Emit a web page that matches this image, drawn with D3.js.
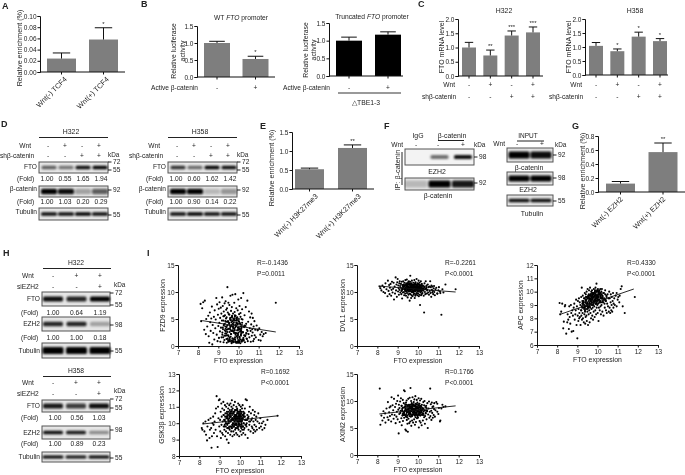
<!DOCTYPE html>
<html><head><meta charset="utf-8">
<script src="https://cdn.jsdelivr.net/npm/d3@7/dist/d3.min.js"></script>
<style>
html,body{margin:0;padding:0;background:#fff}
svg{display:block;filter:blur(0.3px)}
text{font-family:"Liberation Sans",Arial,sans-serif;fill:#222}
</style></head><body><svg id="c" width="685" height="475"></svg>
<script>
// ---------- data: bars ----------
const aCats=["Wnt(-) TCF4","Wnt(+) TCF4"], aVals=[0.024,0.058], aErrs=[0.034,0.079];
const bWtVals=[1.0,0.53], bWtErrs=[1.05,0.61];
const bTrVals=[1.0,1.17], bTrErrs=[1.1,1.25];
const c322Vals=[1.0,0.72,1.42,1.53], c322Errs=[1.18,0.91,1.58,1.72], c322Stars=["","**","***","***"];
const c358Vals=[1.04,0.85,1.37,1.21], c358Errs=[1.16,0.93,1.53,1.3], c358Stars=["","*","*","*"];
const eCats=["Wnt(-) H3K27me3","Wnt(+) H3K27me3"], eVals=[0.52,1.08], eErrs=[0.55,1.16];
const gCats=["Wnt(-) EZH2","Wnt(+) EZH2"], gVals=[0.12,0.57], gErrs=[0.15,0.70];
const activeSigns=["-","+"], wntSigns=["-","+","-","+"], shSigns=["-","-","+","+"];
const wnt3=["-","+","+"], si3=["-","-","+"];
// ---------- data: fold numbers and band strengths ----------
const d322Fold1=["1.00","0.55","1.65","1.94"], d322Fold2=["1.00","1.03","0.20","0.29"];
const d358Fold1=["1.00","0.60","1.62","1.42"], d358Fold2=["1.00","0.90","0.14","0.22"];
const h322Fold1=["1.00","0.64","1.19"], h322Fold2=["1.00","1.00","0.18"];
const h358Fold1=["1.00","0.56","1.03"], h358Fold2=["1.00","0.89","0.23"];
const d322Fto=[.6,.5,.95,1], d322Cat=[1,.95,.3,.6], d322Tub=[.95,.95,1,.95];
const d358Fto=[.8,.55,1,.95], d358Cat=[1,1,.2,.35], d358Tub=[.95,1,.95,.95];
const fIp1=[0,.55,.95], fIp2=[.2,1,.9], fIn=[1,.95], fInEzh=[1,1], fInTub=[.95,.95];
const h322Fto=[.95,.85,1], h322Ezh=[.85,.85,.3], h322Tub=[1,1,1];
const h358Fto=[.9,.75,.95], h358Ezh=[.95,.9,.4], h358Tub=[1,.95,1];
// ---------- data: scatter (FTO expression is shared by all five plots) ----------
const ftoX=[8.12,8.15,8.2,8.25,8.3,8.33,8.38,8.4,8.45,8.5,8.52,8.55,8.58,8.6,8.62,8.65,8.68,8.7,8.72,8.75,
8.78,8.8,8.82,8.85,8.87,8.9,8.92,8.94,8.96,8.98,9.0,9.02,9.03,9.05,9.06,9.08,9.09,9.1,9.12,9.13,
9.15,9.16,9.18,9.19,9.2,9.22,9.23,9.25,9.26,9.27,9.28,9.3,9.31,9.32,9.33,9.35,9.36,9.37,9.38,9.39,
9.4,9.41,9.42,9.43,9.44,9.45,9.46,9.47,9.48,9.49,9.5,9.51,9.52,9.53,9.54,9.55,9.56,9.57,9.58,9.59,
9.6,9.61,9.62,9.63,9.64,9.65,9.66,9.67,9.68,9.69,9.7,9.71,9.72,9.73,9.74,9.75,9.76,9.77,9.78,9.79,
9.8,9.81,9.82,9.83,9.84,9.85,9.86,9.87,9.88,9.89,9.9,9.91,9.92,9.93,9.94,9.95,9.96,9.97,9.98,9.99,
10.0,10.01,10.02,10.03,10.04,10.05,10.06,10.07,10.08,10.09,10.1,10.11,10.12,10.13,10.14,10.15,10.16,10.17,10.18,10.19,
10.2,10.22,10.24,10.26,10.28,10.3,10.32,10.34,10.36,10.38,10.4,10.42,10.44,10.46,10.48,10.5,10.52,10.54,10.56,10.58,
10.6,10.61,10.63,10.65,10.66,10.68,10.7,10.71,10.73,10.75,10.77,10.79,10.8,10.83,10.86,10.9,10.95,11.0,11.03,11.08,
11.1,11.15,11.2,11.25,11.35,10.95,11.85];
const ftoCoreX=[9.22,9.3,9.38,9.45,9.52,9.58,9.63,9.68,9.72,9.77,9.81,9.86,9.9,9.94,9.98,10.03,10.08,10.14,10.22,10.33,
9.25,9.34,9.41,9.48,9.55,9.6,9.65,9.7,9.74,9.79,9.83,9.88,9.92,9.96,10.0,10.05,10.1,10.17,10.26,10.38,
9.2,9.32,9.4,9.47,9.53,9.59,9.64,9.69,9.73,9.78,9.82,9.87,9.91,9.95,9.99,10.04,10.09,10.15,10.24,10.35,
9.28,9.36,9.43,9.5,9.56,9.61,9.66,9.71,9.75,9.8,9.84,9.89,9.93,9.97,10.01,10.06,10.11,10.18,10.28,10.42,
9.24,9.35,9.42,9.49,9.54,9.62,9.67,9.7,9.76,9.8,9.85,9.88,9.92,9.96,10.02,10.07,10.12,10.2,10.3,10.45,
9.27,9.37,9.44,9.51,9.57,9.6,9.66,9.72,9.77,9.82,9.86,9.9,9.95,9.98,10.03,10.06,10.13,10.16,10.25,10.4];
const fzd9Y=[7.8,4.6,7.0,8.1,3.0,8.4,2.2,5.0,3.6,5.6,1.8,0.6,6.2,4.4,2.8,5.1,7.3,0.3,3.9,2.4,
5.4,1.2,6.6,3.3,4.9,8.9,2.1,7.7,0.9,5.8,3.7,6.9,1.5,4.3,8.1,2.7,5.2,0.8,7.1,3.4,
6.0,1.6,4.7,9.0,2.5,7.4,3.1,5.5,0.7,6.4,4.0,1.1,7.9,2.9,5.7,3.6,8.3,1.9,4.5,6.7,
2.3,5.3,0.6,7.0,3.8,10.9,1.4,6.2,4.6,2.0,8.0,3.2,5.9,0.9,4.2,7.6,2.6,1.2,5.0,3.5,
9.3,1.7,4.8,6.5,2.2,3.9,0.5,7.2,5.4,2.8,9.5,4.1,1.0,6.0,3.3,5.1,0.7,4.4,2.4,8.0,
3.0,6.3,1.3,4.7,9.6,2.1,5.6,0.8,3.7,7.0,4.3,1.8,5.2,2.9,0.6,4.0,6.6,3.4,1.1,8.6,
2.5,4.6,0.9,5.9,3.2,7.4,1.5,4.2,2.7,0.5,6.1,3.6,1.9,8.9,2.3,5.0,0.8,3.9,6.8,1.2,
4.9,2.6,9.8,1.0,3.5,5.7,0.7,2.0,7.2,4.1,1.4,3.0,8.4,0.9,4.5,2.2,6.4,1.6,3.3,5.3,
2.8,0.8,4.0,6.0,1.9,3.1,2.5,5.2,0.9,3.6,1.3,4.6,2.0,3.0,1.6,3.8,2.9,1.1,3.3,2.1,
1.0,2.6,1.8,2.2,2.4,3.0,8.0];
const fzd9Core=[3.4,1.9,5.1,2.6,4.3,0.9,3.7,5.6,1.4,4.8,2.9,3.9,0.7,5.3,2.2,4.5,1.2,3.2,2.5,1.8,
4.7,2.3,3.5,1.1,5.8,3.0,4.4,0.8,2.7,5.0,1.6,3.8,4.9,2.0,0.6,3.3,5.4,1.0,3.6,2.4,
2.1,4.1,1.3,3.1,0.9,5.2,2.8,4.6,3.5,1.2,5.7,2.4,4.2,0.8,3.4,1.7,4.0,2.6,1.5,3.7,
5.5,3.2,2.0,4.4,1.5,3.6,0.7,2.9,4.9,3.3,1.1,5.1,2.3,4.1,3.0,0.9,2.7,4.3,2.0,1.3,
1.6,4.6,3.0,0.8,3.9,2.2,5.3,1.4,4.0,2.5,3.5,0.6,4.7,1.9,5.0,3.1,2.1,1.0,3.8,2.8,
3.8,2.7,4.5,1.8,3.2,4.8,1.0,3.6,0.8,5.4,2.4,4.3,1.5,3.0,0.7,4.2,2.9,3.5,1.2,2.3];
const dvl1Y=[11.0,10.7,10.3,11.2,10.0,10.9,9.8,11.6,10.5,9.2,12.1,10.2,11.3,9.6,10.8,11.5,9.3,10.4,11.9,9.9,
10.6,11.7,8.6,11.0,9.7,12.7,10.3,11.4,9.1,11.8,12.4,10.1,11.2,10.7,9.5,11.6,10.4,12.0,11.1,9.9,
10.8,11.5,9.6,10.2,11.9,8.8,11.3,10.5,9.9,12.0,10.9,11.4,10.0,9.4,11.7,10.6,11.1,9.7,12.2,10.3,
10.7,9.3,11.6,10.1,11.2,12.3,9.8,10.9,11.5,9.0,10.4,11.8,10.6,9.5,11.0,12.0,10.2,9.7,11.3,8.4,
10.5,11.9,13.0,9.6,11.1,10.3,8.9,11.6,10.0,9.4,12.1,10.8,11.4,9.2,10.6,11.2,9.9,11.7,10.2,9.5,
11.0,9.7,12.2,10.4,8.9,11.5,10.1,9.3,11.8,10.7,9.6,11.3,10.9,12.4,9.8,10.5,11.1,9.4,11.6,10.2,
9.7,11.4,10.6,12.1,9.2,11.0,10.3,9.5,11.7,10.8,7.6,11.2,9.9,10.5,12.0,9.4,11.3,10.1,9.6,11.5,
10.7,9.8,11.1,10.3,9.3,6.2,11.6,10.0,9.6,12.0,10.6,11.2,9.7,10.4,11.4,9.9,10.9,9.5,11.0,10.2,
12.0,9.8,10.9,9.1,11.2,10.4,9.9,11.0,10.2,9.6,10.7,11.1,10.0,9.4,10.5,10.8,9.7,10.3,10.9,10.1,
9.8,5.8,10.5,9.9,11.4,9.7,10.5];
const dvl1Core=[10.6,11.3,10.2,11.0,10.7,11.5,10.4,10.9,11.2,10.1,10.8,11.4,10.3,11.1,10.5,10.9,11.3,10.2,10.7,11.0,
11.1,10.5,11.4,10.3,10.9,11.6,10.6,11.2,10.0,10.8,11.3,10.4,11.0,10.6,11.5,10.2,10.9,11.1,10.4,10.6,
10.3,11.0,10.8,11.3,10.1,10.7,11.4,10.5,11.1,10.9,10.2,11.6,10.6,11.2,10.4,11.0,10.7,10.3,11.2,10.5,
10.8,10.4,11.2,10.7,11.5,10.2,11.0,10.6,10.3,11.3,10.9,10.5,11.4,10.1,10.8,11.1,10.4,11.2,10.6,10.9,
10.5,11.2,10.6,11.1,10.3,10.9,11.5,10.1,10.7,11.4,10.4,11.0,10.8,11.3,10.2,10.6,11.1,10.5,10.9,10.3,
11.0,10.6,10.3,11.4,10.8,10.2,11.1,10.7,11.3,10.5,11.0,10.4,11.2,10.9,10.1,11.4,10.6,10.8,10.3,10.7];
const apcY=[9.15,8.3,8.5,9.1,7.25,7.75,8.9,9.0,6.85,7.7,8.3,7.9,7.2,8.9,8.1,7.6,9.0,8.4,7.0,8.6,
8.2,7.05,8.8,9.1,7.9,8.3,8.6,9.4,7.5,8.9,6.5,8.2,9.3,7.8,8.7,9.5,8.0,8.4,9.2,8.1,
9.0,7.5,8.6,9.6,8.2,10.3,7.9,9.1,8.4,9.7,8.0,8.8,9.3,7.7,9.5,8.3,8.9,9.9,8.5,7.6,
9.2,8.1,9.8,8.7,9.4,8.2,10.0,7.8,9.0,9.6,8.5,10.2,9.1,7.5,8.8,9.7,8.3,9.3,10.1,8.6,
9.5,7.7,8.9,10.3,9.1,8.4,9.8,9.3,8.0,10.0,8.7,9.6,9.2,10.1,8.2,9.4,8.8,9.9,7.9,9.0,
9.6,8.5,10.2,9.2,8.9,9.7,8.1,10.0,9.4,8.6,10.3,9.1,9.8,8.3,9.5,10.6,8.8,9.3,10.1,9.0,
9.7,8.4,10.2,9.1,9.6,7.8,10.0,8.8,9.4,10.1,9.2,8.6,9.9,9.3,10.2,8.9,9.7,8.3,9.5,10.0,
9.0,10.2,8.5,9.6,9.2,8.2,9.9,9.4,8.8,10.1,9.3,8.6,9.7,8.4,9.1,9.8,8.9,9.5,8.5,10.0,
8.8,9.5,8.4,9.2,9.8,8.6,9.0,9.6,8.5,9.3,9.9,8.8,9.1,9.5,9.0,9.7,8.9,9.4,9.6,9.2,
9.7,10.2,10.4,8.9,8.4,9.9,9.6];
const apcCore=[8.9,9.1,8.6,9.4,9.0,9.5,8.8,9.7,9.2,9.6,9.9,9.3,9.8,9.1,9.6,10.0,9.4,9.7,9.2,9.5,
9.3,8.7,9.4,8.9,9.7,9.2,9.5,9.0,9.8,9.3,9.6,10.1,9.1,9.7,9.4,9.9,9.2,9.6,9.3,9.8,
8.6,9.2,8.9,9.6,8.8,9.4,9.7,9.1,9.5,9.9,9.2,9.7,9.4,10.0,9.3,9.6,9.8,9.2,9.5,9.1,
9.0,9.5,9.3,8.7,9.6,9.0,9.8,9.4,9.7,9.1,9.9,9.5,9.3,9.6,10.1,9.4,9.8,9.5,9.9,9.3,
8.8,9.0,9.6,9.2,8.9,9.7,9.3,9.6,9.0,9.8,9.4,9.9,9.6,9.2,9.7,10.0,9.3,9.8,9.4,9.6,
9.2,8.8,9.1,9.5,9.8,9.1,9.4,9.9,9.5,9.2,9.7,9.3,10.0,9.5,9.8,9.4,9.6,9.9,9.7,9.4];
const gskY=[9.7,9.6,10.0,9.5,10.1,9.3,8.95,9.8,10.2,9.1,9.6,10.3,9.7,8.5,9.2,10.0,10.4,9.9,9.4,10.1,
10.6,9.6,10.9,11.65,9.2,8.55,11.0,10.3,11.4,9.8,11.45,10.2,9.5,10.7,9.1,11.2,9.9,10.4,9.4,10.9,
10.1,9.3,11.3,10.5,9.8,10.8,9.6,10.2,11.1,9.2,10.6,10.0,9.5,11.0,10.3,9.0,10.7,9.7,11.2,10.4,
10.0,9.4,10.9,10.2,8.8,10.5,9.7,11.1,10.3,9.6,10.8,10.1,9.3,11.2,10.4,9.8,10.6,9.5,11.0,10.2,
11.4,9.7,10.3,9.2,10.9,10.0,10.6,9.5,10.2,11.1,9.8,10.4,9.3,10.7,10.1,11.3,9.6,10.5,9.9,10.8,
10.2,9.4,11.0,10.5,9.7,10.3,10.9,9.3,10.6,10.1,9.8,11.2,10.4,9.6,10.7,10.0,9.2,11.1,10.3,10.5,
9.9,10.8,9.5,10.2,11.0,10.4,9.7,10.6,9.3,10.1,10.9,9.6,10.3,11.1,9.8,10.5,9.4,10.7,10.0,9.6,
10.4,9.7,10.9,9.3,11.45,10.2,9.8,11.4,10.5,9.1,10.3,9.6,10.7,9.9,11.0,10.1,9.5,10.6,10.2,9.8,
10.3,9.7,10.8,9.4,10.1,9.6,10.5,9.9,10.7,9.5,10.2,9.8,10.4,9.6,10.1,10.6,9.7,10.3,9.8,10.0,
9.6,10.1,9.7,9.9,10.2,10.0,10.45];
const gskCore=[10.2,9.8,10.5,10.0,10.7,9.7,10.3,10.6,9.9,10.4,10.8,10.1,9.7,10.5,10.2,10.7,9.9,10.3,10.6,10.0,
9.9,10.4,9.7,10.6,10.1,10.8,10.2,9.8,10.5,10.3,9.9,10.7,10.0,10.4,10.6,9.8,10.2,10.5,9.9,10.3,
10.5,10.0,10.3,9.8,10.6,10.2,9.9,10.7,10.1,9.7,10.4,10.8,10.3,9.9,10.5,10.1,10.7,9.8,10.4,10.2,
10.1,10.6,10.2,10.4,9.8,10.5,10.0,10.3,10.8,10.2,9.9,10.4,10.6,10.1,9.8,10.3,10.5,10.0,10.2,10.4,
9.8,10.3,10.7,10.1,10.4,9.9,10.6,10.2,10.0,10.5,10.3,9.8,10.1,10.7,10.4,10.0,10.2,10.6,9.9,10.1,
10.4,9.9,10.1,10.5,10.2,10.7,9.8,10.4,10.3,10.0,10.6,10.2,9.9,10.3,10.5,10.1,9.8,10.4,10.2,10.3];
const axin2Y=[12.3,5.6,7.3,6.4,8.1,6.9,7.7,6.0,8.6,7.0,9.8,6.5,7.9,8.8,7.2,9.0,6.2,10.7,7.5,9.2,
8.3,6.7,10.4,7.4,8.9,5.9,9.5,7.1,8.0,10.0,6.6,11.0,8.4,4.0,9.3,7.6,8.7,6.1,9.9,7.8,
8.2,10.5,6.8,9.1,5.5,8.5,7.3,10.2,6.3,8.8,7.7,9.6,12.0,6.9,8.1,11.8,7.4,9.4,4.7,8.6,
7.2,9.7,4.5,8.3,10.1,6.5,8.9,7.0,5.8,9.2,4.3,8.0,10.4,6.7,8.5,7.5,9.0,5.9,8.2,10.6,
7.7,9.3,6.2,12.4,8.6,7.1,10.0,5.4,8.4,9.6,7.3,6.4,8.8,10.7,7.9,9.1,6.0,8.3,7.5,9.8,
8.1,6.6,10.3,7.4,9.0,5.6,8.5,10.9,7.0,8.7,6.1,9.4,7.8,8.9,10.2,6.8,8.2,9.7,7.2,8.6,
6.9,9.2,8.0,10.5,5.1,8.4,7.6,9.5,6.3,8.8,10.1,7.3,8.5,6.0,9.0,7.9,10.4,8.2,5.5,9.3,
7.4,8.7,6.4,9.8,8.1,7.0,10.0,5.8,8.9,7.7,9.1,6.6,8.3,9.6,5.0,7.5,8.6,9.9,6.9,8.0,
12.3,7.2,9.4,8.2,6.5,9.7,7.8,8.9,6.9,9.0,7.4,8.5,9.6,7.1,8.3,9.8,8.0,7.6,8.7,6.2,
6.4,8.6,9.3,8.9,9.0,9.5,8.0];
const axin2Core=[8.2,7.4,9.0,7.9,8.6,7.2,8.9,8.1,9.4,7.6,8.4,9.1,7.8,8.7,7.3,9.2,8.0,8.5,7.7,8.3,
7.6,8.8,7.1,8.4,9.3,7.9,8.2,9.0,7.5,8.6,8.1,9.5,7.7,8.3,8.9,7.4,9.1,8.0,8.6,7.8,
9.1,7.8,8.5,7.3,8.0,9.2,7.6,8.7,8.3,9.4,7.9,8.2,9.0,7.4,8.8,8.1,7.5,8.9,8.4,7.2,
7.4,8.3,9.3,8.0,7.7,8.6,9.0,7.2,8.5,7.9,9.2,8.4,7.6,8.8,8.1,9.5,7.8,8.3,7.4,8.7,
8.7,7.5,8.1,9.1,8.4,7.7,8.2,9.3,7.9,8.5,7.3,9.0,8.6,8.0,7.6,8.9,8.3,7.5,9.2,8.1,
8.0,9.0,7.6,8.4,8.8,8.2,7.4,8.6,9.1,7.8,8.3,7.5,9.4,8.1,8.7,7.9,8.5,9.0,7.7,8.2];
const xTicks=[7,8,9,10,11,12,13];
const fzd9Fit=[[8.2,4.7],[11.85,2.6]], dvl1Fit=[[8.05,11.1],[11.85,10.0]], apcFit=[[8.15,8.3],[11.8,10.2]];
const gskFit=[[8.15,9.95],[11.85,10.45]], axin2Fit=[[8.1,7.6],[11.85,9.1]];

// ---------- helpers ----------
const svg=d3.select("#c");
const defs=svg.append("defs");
defs.append("filter").attr("id","soft").attr("x","-20%").attr("y","-60%").attr("width","140%").attr("height","220%")
  .append("feGaussianBlur").attr("stdDeviation",0.9);
function T(s,x,y,o={}){
  const t=svg.append("text").attr("x",x).attr("y",y).attr("dy","0.35em")
    .attr("font-size",o.size||6.6).attr("text-anchor",o.a||"start");
  if(o.bold)t.attr("font-weight","bold");
  if(o.rot!==undefined)t.attr("transform",`rotate(${o.rot} ${x} ${y})`);
  if(o.html)t.html(s);else t.text(s);
  return t;
}
function styleAxis(g){
  g.selectAll("path.domain").attr("stroke","#111").attr("stroke-width",1);
  g.selectAll("line").attr("stroke","#111").attr("stroke-width",1);
  g.selectAll("text").attr("font-size",6.5).attr("font-family",'"Liberation Sans",Arial,sans-serif').attr("fill","#222");
}
function bars(c){
  const y=d3.scaleLinear().domain([0,c.max]).range([c.y0,c.y1]);
  const idx=c.vals.map((_,i)=>i);
  const x=d3.scalePoint().domain(idx).range([c.c0,c.c1]);
  const g=svg.append("g");
  g.selectAll("rect").data(c.vals).join("rect")
    .attr("x",(d,i)=>x(i)-c.bw/2).attr("width",c.bw)
    .attr("y",d=>y(d)).attr("height",d=>c.y0-y(d)).attr("fill",c.fill||"#7e7e7e");
  const e=svg.append("g").attr("stroke","#111").attr("stroke-width",1);
  e.selectAll("line.v").data(c.errs).join("line").attr("class","v")
    .attr("x1",(d,i)=>x(i)).attr("x2",(d,i)=>x(i))
    .attr("y1",(d,i)=>y(c.vals[i])).attr("y2",d=>y(d));
  e.selectAll("line.h").data(c.errs).join("line").attr("class","h")
    .attr("x1",(d,i)=>x(i)-c.bw*0.3).attr("x2",(d,i)=>x(i)+c.bw*0.3)
    .attr("y1",d=>y(d)).attr("y2",d=>y(d));
  const ay=svg.append("g").attr("transform",`translate(${c.ax},0)`)
    .call(d3.axisLeft(y).tickValues(c.ticks).tickFormat(d3.format(c.fmt)).tickSize(2.5).tickPadding(1));
  styleAxis(ay);
  svg.append("line").attr("x1",c.ax).attr("x2",c.xEnd).attr("y1",c.y0).attr("y2",c.y0).attr("stroke","#111").attr("stroke-width",1.2);
  svg.append("g").selectAll("line").data(idx).join("line")
    .attr("x1",i=>x(i)).attr("x2",i=>x(i)).attr("y1",c.y0).attr("y2",c.y0+2.5).attr("stroke","#111");
  (c.stars||[]).forEach((s,i)=>{ if(s) T(s,x(i),y(c.errs[i])-(c.sGap||4),{a:"middle",size:6}); });
  (c.rows||[]).forEach(r=>r.vals.forEach((s,i)=>T(s,x(i),r.y,{a:"middle"})));
  (c.cats||[]).forEach((s,i)=>T(s,x(i)+(c.catDx||3),c.y0+6,{a:"end",rot:-45,size:7.2}));
  return {x,y};
}
function rowText(vals,c0,c1,y,o={}){
  const x=d3.scalePoint().domain(vals.map((_,i)=>i)).range([c0,c1]);
  vals.forEach((s,i)=>T(s,x(i),y,Object.assign({a:"middle"},o)));
}
function blot(b){
  svg.append("rect").attr("x",b.x0).attr("y",b.y0).attr("width",b.x1-b.x0).attr("height",b.y1-b.y0)
    .attr("fill",b.bg||"#e6e6e6").attr("stroke","#555").attr("stroke-width",1);
  const x=d3.scalePoint().domain(b.vals.map((_,i)=>i)).range([b.c0,b.c1]);
  const cy=(b.y0+b.y1)/2+(b.dy||0);
  svg.append("g").attr("filter","url(#soft)").selectAll("rect").data(b.vals).join("rect")
    .attr("x",(d,i)=>x(i)-b.bw/2).attr("width",b.bw)
    .attr("y",cy-b.h/2).attr("height",b.h).attr("rx",1.5)
    .attr("fill","#000").attr("opacity",d=>d);
  (b.marks||[]).forEach(m=>{
    svg.append("line").attr("x1",b.x1).attr("x2",b.x1+3.5).attr("y1",m[1]).attr("y2",m[1]).attr("stroke","#222");
    T(m[0],b.x1+5,m[1]);
  });
}
function scatter(c){
  const x=d3.scaleLinear().domain([7,13]).range([c.x0,c.x1]);
  const y=d3.scaleLinear().domain(c.dom).range([c.y0,c.y1]);
  const pts=d3.zip(ftoX.concat(ftoCoreX),c.vals.concat(c.core));
  svg.append("g").selectAll("circle").data(pts).join("circle")
    .attr("cx",d=>x(d[0])).attr("cy",d=>y(d[1])).attr("r",1.05).attr("fill","#000");
  svg.append("path").attr("d",d3.line().x(d=>x(d[0])).y(d=>y(d[1]))(c.fit)).attr("stroke","#111").attr("stroke-width",0.9).attr("fill","none");
  styleAxis(svg.append("g").attr("transform",`translate(${c.x0},0)`)
    .call(d3.axisLeft(y).tickValues(c.ticks).tickFormat(d3.format("d")).tickSize(2.5).tickPadding(1)));
  styleAxis(svg.append("g").attr("transform",`translate(0,${c.y0})`)
    .call(d3.axisBottom(x).tickValues(xTicks).tickFormat(d3.format("d")).tickSize(2.5).tickPadding(1.5)));
  T(c.ylab,c.ylx,(c.y0+c.y1)/2,{a:"middle",rot:-90,size:6.9});
  T("FTO expression",(c.x0+c.x1)/2,c.y0+14.5,{a:"middle",size:6.9});
  T(c.R,c.rx,c.y1-2,{size:6.6}); T(c.P,c.rx,c.y1+8.5,{size:6.6});
}
// panel letters
[["A",2,6],["B",141,4],["C",418,4],["D",1,124],["E",260,126],["F",384,126],["G",572,126],["H",3,253],["I",147,253]]
  .forEach(p=>T(p[0],p[1],p[2],{bold:true,size:9}));

// ---------- A ----------
bars({ax:40,xEnd:125,y0:72,y1:16,max:0.10,ticks:[0,.02,.04,.06,.08,.10],fmt:".2f",c0:61.5,c1:103.5,bw:29,vals:aVals,errs:aErrs,stars:["","*"],cats:aCats,catDx:4});
T("Relative enrichment (%)",19,48,{a:"middle",rot:-90,size:7.2});
// ---------- B ----------
bars({ax:197,xEnd:275,y0:77,y1:26,max:1.5,ticks:[0,.5,1,1.5],fmt:".1f",c0:217,c1:255.5,bw:26,vals:bWtVals,errs:bWtErrs,stars:["","*"],rows:[{y:88,vals:activeSigns}]});
T("WT <tspan font-style='italic'>FTO</tspan> promoter",241,18,{a:"middle",html:true,size:6.7});
T("Relative  luciferase",174,51,{a:"middle",rot:-90,size:6.8}); T("activity",183,51,{a:"middle",rot:-90,size:6.8});
T("Active β-catenin",151,88,{size:6.6});
bars({ax:329,xEnd:403,y0:76,y1:23,max:1.5,ticks:[0,.5,1,1.5],fmt:".1f",c0:349,c1:388,bw:26,fill:"#000",vals:bTrVals,errs:bTrErrs,rows:[{y:88,vals:activeSigns}]});
T("Truncated <tspan font-style='italic'>FTO</tspan> promoter",372,17,{a:"middle",html:true,size:6.7});
T("Relative luciferase",306,50,{a:"middle",rot:-90,size:6.8}); T("activity",314,50,{a:"middle",rot:-90,size:6.8});
T("Active β-catenin",283,88,{size:6.6});
svg.append("line").attr("x1",338).attr("x2",401).attr("y1",93).attr("y2",93).attr("stroke","#777").attr("stroke-width",1.3);
T("△TBE1-3",352,103,{size:6.8});
// ---------- C ----------
bars({ax:458,xEnd:543,y0:76,y1:19,max:2,ticks:[0,.5,1,1.5,2],fmt:".1f",c0:469,c1:533,bw:14,vals:c322Vals,errs:c322Errs,stars:c322Stars,rows:[{y:84.5,vals:wntSigns},{y:96.5,vals:shSigns}]});
T("H322",504,11,{a:"middle",size:6.9}); T("FTO mRNA level",442,47,{a:"middle",rot:-90,size:7});
T("Wnt",455,84.5,{a:"end"}); T("shβ-catenin",422,96.5);
bars({ax:585,xEnd:668,y0:75,y1:19,max:2,ticks:[0,.5,1,1.5,2],fmt:".1f",c0:596,c1:660,bw:14,vals:c358Vals,errs:c358Errs,stars:c358Stars,rows:[{y:84.5,vals:wntSigns},{y:96.5,vals:shSigns}]});
T("H358",635,11,{a:"middle",size:6.9}); T("FTO mRNA level",569,47,{a:"middle",rot:-90,size:7});
T("Wnt",582,84.5,{a:"end"}); T("shβ-catenin",549,96.5);
// ---------- D ----------
function dPanel(p){
  const o=p.o;
  T(p.name,o+32,132,{a:"middle",size:6.9});
  svg.append("line").attr("x1",o).attr("x2",o+69).attr("y1",137.5).attr("y2",137.5).attr("stroke","#222");
  T("Wnt",o-8,145.5,{a:"end"}); T("shβ-catenin",o-39,155.5); T("kDa",o+69,155,{size:6.4});
  rowText(wntSigns,o+9,o+60,145.5); rowText(shSigns,o+9,o+60,155.5);
  T("FTO",o-2,167,{a:"end"}); T("(Fold)",o-22,179); rowText(p.f1,o+8,o+62,179,{size:6.7});
  T("β-catenin",o-2,188.5,{a:"end"}); T("(Fold)",o-22,201.5); rowText(p.f2,o+8,o+62,201.5,{size:6.7});
  T("Tubulin",o-2,212,{a:"end"});
  blot({x0:o,x1:o+69,y0:162,y1:173,c0:o+10,c1:o+61,bw:15,h:3.4,vals:p.fto,marks:[["72",162],["55",170]]});
  blot({x0:o,x1:o+69,y0:186,y1:197,c0:o+10,c1:o+61,bw:16,h:5.5,vals:p.cat,marks:[["92",190]]});
  blot({x0:o,x1:o+69,y0:208,y1:220,c0:o+10,c1:o+61,bw:16,h:3.6,vals:p.tub,marks:[["55",215]]});
}
dPanel({o:39,name:"H322",f1:d322Fold1,f2:d322Fold2,fto:d322Fto,cat:d322Cat,tub:d322Tub});
dPanel({o:168,name:"H358",f1:d358Fold1,f2:d358Fold2,fto:d358Fto,cat:d358Cat,tub:d358Tub});
// ---------- E ----------
bars({ax:292,xEnd:374,y0:189,y1:132,max:1.5,ticks:[0,.5,1,1.5],fmt:".1f",c0:309.5,c1:352.5,bw:29,vals:eVals,errs:eErrs,stars:["","**"],cats:eCats,catDx:7});
T("Relative enrichment (%)",271,168,{a:"middle",rot:-90,size:7.2});
// ---------- F ----------
T("IgG",418,136,{a:"middle",size:6.9}); T("β-catenin",452,136,{a:"middle",size:6.9});
svg.append("line").attr("x1",438).attr("x2",464).attr("y1",140.5).attr("y2",140.5).attr("stroke","#222");
T("Wnt",403,144.5,{a:"end"}); ["-","-","+"].forEach((s,i)=>T(s,[416,438,463][i],144.5,{a:"middle"}));
T("kDa",474,145,{size:6.4});
blot({x0:405,x1:474,y0:149,y1:165,c0:416,c1:463,bw:18,h:4,bg:"#f3f3f3",vals:fIp1,marks:[["98",157]]});
T("EZH2",437,172,{a:"middle",size:6.9});
blot({x0:405,x1:474,y0:178,y1:190,c0:416,c1:463,bw:22,h:7,vals:fIp2,marks:[["92",183]]});
T("β-catenin",438,196,{a:"middle",size:6.9});
T("IP: β-catenin",397,170,{a:"middle",rot:-90,size:7.2});
svg.append("line").attr("x1",402).attr("x2",402).attr("y1",152).attr("y2",185).attr("stroke","#222");
T("INPUT",528,136,{a:"middle",size:6.5});
svg.append("line").attr("x1",517).attr("x2",544).attr("y1",141).attr("y2",141).attr("stroke","#222");
T("Wnt",505,144,{a:"end"}); T("-",517,144,{a:"middle"}); T("+",542,144,{a:"middle"}); T("kDa",555,145,{size:6.4});
blot({x0:507,x1:553,y0:148,y1:162,c0:519,c1:541,bw:21,h:7,vals:fIn,marks:[["92",155]]});
T("β-catenin",529,168,{a:"middle",size:6.9});
blot({x0:507,x1:553,y0:172,y1:185,c0:519,c1:541,bw:21,h:6,vals:fInEzh,marks:[["98",178]]});
T("EZH2",528,190,{a:"middle",size:6.9});
blot({x0:507,x1:553,y0:195,y1:206,c0:519,c1:541,bw:21,h:3.5,vals:fInTub,marks:[["55",201]]});
T("Tubulin",532,214,{a:"middle",size:6.9});
// ---------- G ----------
bars({ax:598,xEnd:685,y0:192,y1:136,max:0.8,ticks:[0,.2,.4,.6,.8],fmt:".1f",c0:620.5,c1:663,bw:29,vals:gVals,errs:gErrs,stars:["","**"],cats:gCats,catDx:1});
T("Relative enrichment (%)",582,171,{a:"middle",rot:-90,size:7.2});
// ---------- H ----------
function hPanel(p){
  const o=42;
  T(p.name,76,p.top,{a:"middle",size:6.7});
  svg.append("line").attr("x1",o+1).attr("x2",o+69).attr("y1",p.top+5.5).attr("y2",p.top+5.5).attr("stroke","#222");
  T("Wnt",22,p.wy); rowText(wnt3,p.c0,p.c1,p.wy); T("siEZH2",17,p.sy); rowText(si3,p.c0,p.c1,p.sy);
  T("kDa",114,p.ky,{size:6.4});
  T("FTO",40,(p.fto[0]+p.fto[1])/2,{a:"end"}); T("(Fold)",21,p.f1y); rowText(p.f1,p.c0+p.fd,p.c1,p.f1y,{size:6.7});
  T("EZH2",40,(p.ezh[0]+p.ezh[1])/2,{a:"end"}); T("(Fold)",21,p.f2y); rowText(p.f2,p.c0+p.fd,p.c1,p.f2y,{size:6.7});
  T("Tubulin",40,(p.tub[0]+p.tub[1])/2,{a:"end"});
  blot({x0:o,x1:o+68,y0:p.fto[0],y1:p.fto[1],c0:p.c0,c1:p.c1,bw:20,h:p.h[0],vals:p.vf,marks:p.mf});
  blot({x0:o,x1:o+68,y0:p.ezh[0],y1:p.ezh[1],c0:p.c0,c1:p.c1,bw:20,h:p.h[1],vals:p.ve,marks:p.me});
  blot({x0:o,x1:o+68,y0:p.tub[0],y1:p.tub[1],c0:p.c0,c1:p.c1,bw:21,h:p.h[2],vals:p.vt,marks:p.mt});
}
hPanel({name:"H322",top:263,wy:276,sy:287,ky:285,c0:53,c1:100,fd:0,fto:[292,306],ezh:[317,331],tub:[343,358],f1y:313,f2y:338,f1:h322Fold1,f2:h322Fold2,h:[5,4.5,7],vf:h322Fto,ve:h322Ezh,vt:h322Tub,mf:[["72",293],["55",305]],me:[["98",325]],mt:[["55",351]]});
hPanel({name:"H358",top:371,wy:383,sy:394,ky:391,c0:53,c1:99,fd:2,fto:[400,412],ezh:[426,439],tub:[452,462],f1y:418,f2y:444,f1:h358Fold1,f2:h358Fold2,h:[5,3.5,3],vf:h358Fto,ve:h358Ezh,vt:h358Tub,mf:[["72",399],["55",408]],me:[["98",430]],mt:[["55",458]]});
// ---------- I ----------
scatter({x0:178,x1:299,y0:346,y1:265,dom:[0,15],ticks:[0,5,10,15],vals:fzd9Y,core:fzd9Core,fit:fzd9Fit,ylab:"FZD9 expression",ylx:163,rx:257,R:"R=-0.1436",P:"P=0.0011"});
scatter({x0:357,x1:479,y0:346,y1:265,dom:[0,15],ticks:[0,5,10,15],vals:dvl1Y,core:dvl1Core,fit:dvl1Fit,ylab:"DVL1 expression",ylx:343,rx:445,R:"R=-0.2261",P:"P<0.0001"});
scatter({x0:537,x1:658,y0:345,y1:265,dom:[6,12],ticks:[6,7,8,9,10,11,12],vals:apcY,core:apcCore,fit:apcFit,ylab:"APC expression",ylx:521,rx:627,R:"R=0.4330",P:"P<0.0001"});
scatter({x0:179,x1:301,y0:456,y1:374,dom:[8,13],ticks:[8,9,10,11,12,13],vals:gskY,core:gskCore,fit:gskFit,ylab:"GSK3β expression",ylx:162,rx:261,R:"R=0.1692",P:"P<0.0001"});
scatter({x0:357,x1:479,y0:455,y1:374,dom:[0,15],ticks:[0,5,10,15],vals:axin2Y,core:axin2Core,fit:axin2Fit,ylab:"AXIN2 expression",ylx:343,rx:445,R:"R=0.1766",P:"P<0.0001"});
</script></body></html>
